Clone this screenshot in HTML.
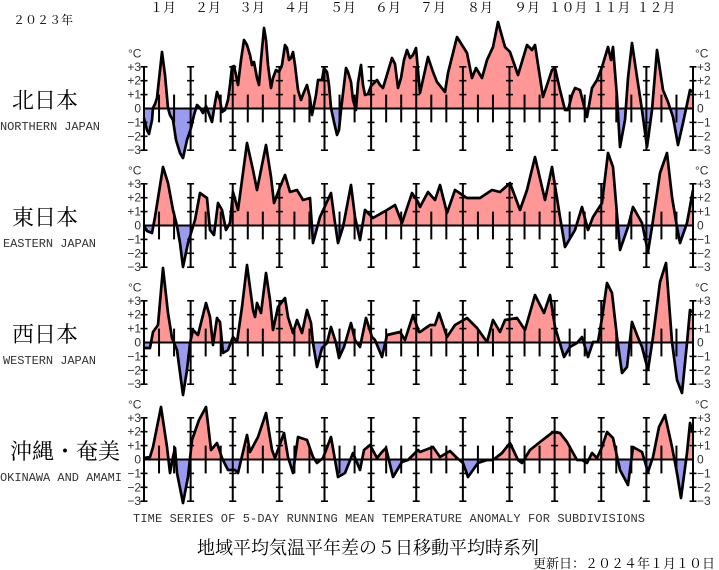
<!DOCTYPE html>
<html><head><meta charset="utf-8"><style>
html,body{margin:0;padding:0;background:#fff;}
svg{display:block;}
text{font-family:"Liberation Serif","Noto Serif CJK SC","Noto Sans CJK JP",serif;fill:#000;}
.m{font-family:"Liberation Mono","DejaVu Sans Mono",monospace;font-size:12px;fill:#333;}
.ax{font-family:"Liberation Sans","DejaVu Sans",sans-serif;font-size:12px;fill:#333;}
</style></head><body>
<svg id="s" width="719" height="570" viewBox="0 0 719 570" xmlns="http://www.w3.org/2000/svg">
<text x="13" y="24" font-size="12">２０２３年</text>
<g font-size="13">
<text x="163" y="12" text-anchor="middle">１月</text>
<text x="208" y="12" text-anchor="middle">２月</text>
<text x="252" y="12" text-anchor="middle">３月</text>
<text x="297" y="12" text-anchor="middle">４月</text>
<text x="343" y="12" text-anchor="middle">５月</text>
<text x="388" y="12" text-anchor="middle">６月</text>
<text x="433" y="12" text-anchor="middle">７月</text>
<text x="480" y="12" text-anchor="middle">８月</text>
<text x="527" y="12" text-anchor="middle">９月</text>
<text x="568" y="12" text-anchor="middle">１０月</text>
<text x="611" y="12" text-anchor="middle">１１月</text>
<text x="656" y="12" text-anchor="middle">１２月</text>
</g>
<g font-size="22">
<text x="12" y="108">北日本</text>
<text x="12" y="225">東日本</text>
<text x="12" y="342">西日本</text>
<text x="10" y="459">沖縄・奄美</text>
</g>
<text class="m" x="0" y="130" textLength="100">NORTHERN JAPAN</text>
<text class="m" x="3" y="247" textLength="93">EASTERN JAPAN</text>
<text class="m" x="3" y="364" textLength="93">WESTERN JAPAN</text>
<text class="m" x="0" y="481" textLength="122">OKINAWA AND AMAMI</text>
<text class="m" x="133" y="522" textLength="512">TIME SERIES OF 5-DAY RUNNING MEAN TEMPERATURE ANOMALY FOR SUBDIVISIONS</text>
<text x="368" y="554" font-size="18" text-anchor="middle">地域平均気温平年差の５日移動平均時系列</text>
<text x="715" y="568" font-size="13" text-anchor="end">更新日：２０２４年１月１０日</text>
<g id="axes"></g>
</svg>
<script>
var s=document.getElementById('s'),NS='http://www.w3.org/2000/svg';
function el(t,a,p){var e=document.createElementNS(NS,t);for(var k in a)e.setAttribute(k,a[k]);(p||s).appendChild(e);return e;}
var zeros=[108.5,225.5,342.5,459.5],U=13.9,X0=144,X1=693;
var data=[
[144,118,147,130,149,134,152,120,153,108,155,104,157,98,162,52,165,75,168,108,170,115,173,120,176,140,180,153,183,158,187,140,191,128,194,115,197,105,200,108,203,113,206,106,209,114,212,122,215,103,217,92,220,100,222,112,225,110,228,100,230,85,232,67,234,66,236,75,238,85,241,60,244,40,247,45,250,55,252,65,254,62,257,78,259,85,261,60,264,28,266,40,268,65,271,88,273,78,276,70,279,72,282,65,285,45,287,48,289,60,291,58,293,52,295,65,298,90,301,100,304,92,307,85,310,98,312,115,316,95,318,80,322,80,324,68,327,72,329,85,331,108,334,122,337,135,339,130,341,110,344,85,346,68,348,72,351,82,353,100,356,110,358,83,361,65,363,85,365,95,368,94,371,86,374,83,377,80,380,85,383,88,386,78,389,68,392,58,395,64,398,88,401,78,404,60,407,50,410,58,413,55,416,48,420,93,428,57,433,72,437,82,445,92,448,73,457,37,462,45,467,53,472,78,476,68,482,78,487,60,493,47,498,22,505,47,510,52,518,75,527,45,532,50,535,45,543,97,552,70,555,68,560,90,565,110,568,110,572,95,575,88,580,90,585,110,587,117,592,88,597,80,602,67,605,57,608,47,611,60,613,47,617,97,620,147,625,120,628,78,632,43,637,77,642,110,647,147,652,110,657,50,663,90,668,102,673,117,678,145,683,123,690,90,693,92],
[144,226,147,231,152,233,155,217,163,167,168,183,173,210,177,226,180,243,183,267,188,243,195,220,200,193,207,198,210,230,214,235,218,203,222,210,226,230,230,223,233,192,238,210,247,143,253,170,257,190,266,145,271,177,274,203,280,187,285,175,290,192,297,190,303,200,310,198,313,243,320,217,331,193,335,223,338,243,343,227,351,185,355,217,360,240,365,210,373,218,387,210,395,205,402,223,412,193,418,202,420,207,428,192,435,200,440,185,447,213,455,190,467,198,480,198,492,190,500,192,510,183,520,210,527,190,535,157,545,200,552,167,560,217,565,247,575,230,582,207,588,230,593,217,602,203,608,153,613,167,620,250,628,227,633,207,642,223,648,252,652,227,660,173,667,153,672,197,677,227,680,243,687,223,693,190],
[144,348,150,348,153,332,158,325,163,268,168,313,172,338,177,350,183,395,187,370,190,343,193,330,198,335,206,303,210,317,213,345,217,318,220,322,223,353,228,350,233,337,237,342,242,307,247,265,253,310,255,317,257,303,261,313,266,273,270,300,273,330,278,307,285,298,288,317,293,333,297,320,302,333,307,310,311,323,313,343,317,367,322,348,327,343,331,327,336,343,339,358,344,347,351,323,355,340,360,347,366,318,372,337,375,340,382,357,387,335,400,332,405,340,413,315,419,332,420,332,430,325,435,325,439,313,447,337,455,325,467,318,477,328,487,342,493,320,500,332,505,320,517,318,525,330,535,295,544,313,550,295,555,327,564,357,570,347,577,343,582,337,588,357,593,342,598,342,602,318,607,283,612,293,617,337,622,373,627,367,632,322,637,335,642,347,648,370,653,337,660,282,666,263,672,342,677,380,682,393,687,343,690,310,693,312],
[144,458,150,457,153,447,161,407,167,447,170,473,173,457,175,448,177,473,183,503,188,477,192,440,199,420,206,407,211,450,217,443,222,458,228,470,235,470,238,473,247,435,250,452,258,437,266,413,272,450,275,458,284,433,288,457,293,473,298,437,307,440,313,457,317,463,323,458,331,437,338,477,345,473,353,453,360,470,364,450,370,445,377,458,382,452,386,448,393,477,402,462,408,460,418,450,420,452,433,447,440,457,450,451,457,458,463,463,468,477,478,463,487,460,493,460,502,453,510,443,518,460,522,463,530,450,540,442,553,432,560,433,567,442,577,460,582,460,587,463,592,453,597,458,602,447,607,432,613,438,620,470,628,485,633,447,642,452,648,472,653,457,659,427,665,415,672,447,677,473,681,498,687,453,690,423,693,433]];
var days=[0,31,59,90,120,151,181,212,243,273,304,334,365];
function dx(d){return X0+d*(X1-X0)/365;}
for(var p=0;p<4;p++){
 var y0=zeros[p],d=data[p],pts=[];
 for(var i=0;i<d.length;i+=2)pts.push(d[i]+','+d[i+1]);
 var poly='144,'+y0+' '+pts.join(' ')+' 693,'+y0;
 var ca=el('clipPath',{id:'a'+p});el('rect',{x:0,y:0,width:719,height:y0},ca);
 var cb=el('clipPath',{id:'b'+p});el('rect',{x:0,y:y0,width:719,height:200},cb);
 el('polygon',{points:poly,fill:'#ff9797','clip-path':'url(#a'+p+')'});
 el('polygon',{points:poly,fill:'#9a9aee','clip-path':'url(#b'+p+')'});
 for(var m=0;m<13;m++){
  var x=dx(days[m]);
  el('line',{x1:x,y1:y0-3*U,x2:x,y2:y0+3*U,stroke:'#000','stroke-width':2});
  for(var k=-3;k<=3;k++){if(k==0)continue;el('line',{x1:x-3.5,y1:y0-k*U,x2:x+3.5,y2:y0-k*U,stroke:'#000','stroke-width':1.6});}
  if(m<12){for(var j=1;j<=2;j++){var xx=dx(days[m]+10*j);
   el('line',{x1:xx,y1:y0-U,x2:xx,y2:y0+U,stroke:'#000','stroke-width':2});}}
 }
 el('line',{x1:X0,y1:y0,x2:X1,y2:y0,stroke:'#000','stroke-width':2});
 el('polyline',{points:pts.join(' '),fill:'none',stroke:'#000','stroke-width':2.7,'stroke-linejoin':'round'});
 var labs=['+3','+2','+1','0','\u22123','\u22122','\u22121'];
 var vals=[3,2,1,0,-3,-2,-1];
 for(var q=0;q<7;q++){
  var t=el('text',{x:141,y:y0-vals[q]*U+4,'text-anchor':'end','class':'ax'});t.textContent=labs[q];
  var t2=el('text',{x:697,y:y0-vals[q]*U+4,'class':'ax'});t2.textContent=labs[q];
 }
 var c1=el('text',{x:128,y:y0-51,'class':'ax'});c1.textContent='\u00b0C';
 var c2=el('text',{x:695,y:y0-51,'class':'ax'});c2.textContent='\u00b0C';
}
</script>
</body></html>
